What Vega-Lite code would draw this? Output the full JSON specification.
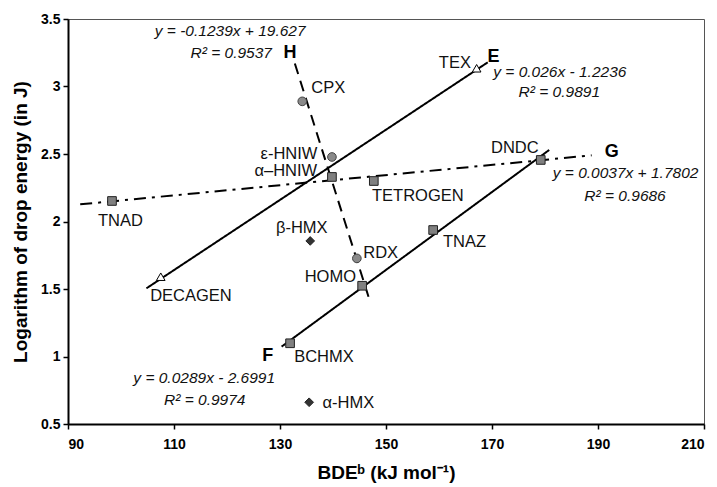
{
  "$schema": "https://vega.github.io/schema/vega-lite/v6.json",
  "width": 636,
  "height": 405,
  "autosize": {"type": "none"},
  "padding": {"left": 68, "top": 19, "right": 13, "bottom": 63},
  "background": "white",
  "config": {
    "font": "Liberation Sans",
    "view": {"stroke": "#555", "strokeWidth": 1},
    "axis": {"grid": false, "domainColor": "black", "domainWidth": 2, "tickColor": "black", "tickWidth": 1.5, "tickSize": 5, "labelFont": "Liberation Sans", "labelFontWeight": "bold", "labelFontSize": 14, "labelColor": "black", "titleFont": "Liberation Sans", "titleFontWeight": "bold", "titleFontSize": 19, "titleColor": "black"}
  },
  "datasets": {
    "pts": [
      {"name": "TNAD", "bde": 98.3, "logE": 2.152, "series": "S1"},
      {"name": "CPX", "bde": 134.2, "logE": 2.89, "series": "S2"},
      {"name": "ε-HNIW", "bde": 139.8, "logE": 2.478, "series": "S2"},
      {"name": "α-HNIW", "bde": 139.8, "logE": 2.33, "series": "S1"},
      {"name": "β-HMX", "bde": 135.7, "logE": 1.856, "series": "S3"},
      {"name": "RDX", "bde": 144.5, "logE": 1.727, "series": "S2"},
      {"name": "HOMO", "bde": 145.5, "logE": 1.524, "series": "S1"},
      {"name": "BCHMX", "bde": 131.9, "logE": 1.098, "series": "S1"},
      {"name": "α-HMX", "bde": 135.5, "logE": 0.661, "series": "S3"},
      {"name": "DECAGEN", "bde": 107.5, "logE": 1.591, "series": "S4"},
      {"name": "TEX", "bde": 167.1, "logE": 3.135, "series": "S4"},
      {"name": "TETROGEN", "bde": 147.7, "logE": 2.3, "series": "S1"},
      {"name": "DNDC", "bde": 179.2, "logE": 2.456, "series": "S1"},
      {"name": "TNAZ", "bde": 158.9, "logE": 1.937, "series": "S1"}
    ],
    "fits": [
      {"line": "E", "bde": 104.8, "logE": 1.505},
      {"line": "E", "bde": 169.2, "logE": 3.179},
      {"line": "F", "bde": 130.3, "logE": 1.073},
      {"line": "F", "bde": 180.8, "logE": 2.53},
      {"line": "G", "bde": 92.3, "logE": 2.127},
      {"line": "G", "bde": 188.8, "logE": 2.49},
      {"line": "H", "bde": 132.8, "logE": 3.17},
      {"line": "H", "bde": 146.7, "logE": 1.443}
    ],
    "texts": [
      {"kind": "name", "t": "CPX", "bde": 139.1, "logE": 2.99},
      {"kind": "name", "t": "ε-HNIW", "bde": 131.7, "logE": 2.5},
      {"kind": "name", "t": "α–HNIW", "bde": 131.1, "logE": 2.374},
      {"kind": "name", "t": "TNAD", "bde": 99.9, "logE": 2.004},
      {"kind": "name", "t": "β-HMX", "bde": 134.1, "logE": 1.95},
      {"kind": "name", "t": "DECAGEN", "bde": 113.2, "logE": 1.448},
      {"kind": "name", "t": "HOMO", "bde": 139.5, "logE": 1.587},
      {"kind": "name", "t": "RDX", "bde": 149.0, "logE": 1.764},
      {"kind": "name", "t": "BCHMX", "bde": 138.3, "logE": 1.0},
      {"kind": "name", "t": "α-HMX", "bde": 142.9, "logE": 0.653},
      {"kind": "name", "t": "TEX", "bde": 163.0, "logE": 3.176},
      {"kind": "name", "t": "DNDC", "bde": 174.3, "logE": 2.542},
      {"kind": "name", "t": "TETROGEN", "bde": 156.0, "logE": 2.189},
      {"kind": "name", "t": "TNAZ", "bde": 164.8, "logE": 1.848},
      {"kind": "eq", "t": "y = -0.1239x + 19.627", "bde": 120.6, "logE": 3.41},
      {"kind": "eq", "t": "R² = 0.9537", "bde": 120.8, "logE": 3.248},
      {"kind": "eq", "t": "y = 0.026x - 1.2236", "bde": 182.8, "logE": 3.11},
      {"kind": "eq", "t": "R² = 0.9891", "bde": 182.7, "logE": 2.957},
      {"kind": "eq", "t": "y = 0.0037x + 1.7802", "bde": 195.2, "logE": 2.357},
      {"kind": "eq", "t": "R² = 0.9686", "bde": 195.1, "logE": 2.189},
      {"kind": "eq", "t": "y = 0.0289x - 2.6991", "bde": 115.7, "logE": 0.843},
      {"kind": "eq", "t": "R² = 0.9974", "bde": 115.8, "logE": 0.678},
      {"kind": "letter", "t": "H", "bde": 131.9, "logE": 3.248},
      {"kind": "letter", "t": "E", "bde": 170.3, "logE": 3.221},
      {"kind": "letter", "t": "G", "bde": 192.6, "logE": 2.517},
      {"kind": "letter", "t": "F", "bde": 127.7, "logE": 1.004}
    ]
  },
  "encoding": {
    "x": {"field": "bde", "type": "quantitative", "scale": {"domain": [90, 210], "nice": false, "zero": false},
      "axis": {"values": [90, 110, 130, 150, 170, 190, 210], "title": "BDEᵇ (kJ mol⁻¹)", "labelPadding": 8, "titlePadding": 12}},
    "y": {"field": "logE", "type": "quantitative", "scale": {"domain": [0.5, 3.5], "nice": false, "zero": false},
      "axis": {"values": [0.5, 1, 1.5, 2, 2.5, 3, 3.5], "format": "~g", "title": "Logarithm of drop energy (in J)", "labelPadding": 3, "titlePadding": 10}}
  },
  "layer": [
    {
      "data": {"name": "fits"},
      "mark": {"type": "line", "color": "black", "strokeWidth": 2},
      "encoding": {
        "detail": {"field": "line", "type": "nominal"},
        "strokeDash": {"field": "line", "type": "nominal", "legend": null,
          "scale": {"domain": ["E", "F", "G", "H"], "range": [[1, 0], [1, 0], [12, 6, 3, 6], [11, 7]]}}
      }
    },
    {
      "data": {"name": "pts"},
      "mark": {"type": "point", "filled": true, "strokeWidth": 1, "opacity": 1},
      "encoding": {
        "shape": {"field": "series", "type": "nominal", "legend": null,
          "scale": {"domain": ["S1", "S2", "S3", "S4"], "range": ["square", "circle", "diamond", "triangle-up"]}},
        "fill": {"field": "series", "type": "nominal", "legend": null,
          "scale": {"domain": ["S1", "S2", "S3", "S4"], "range": ["#808080", "#8a8a8a", "#333333", "#ffffff"]}},
        "stroke": {"field": "series", "type": "nominal", "legend": null,
          "scale": {"domain": ["S1", "S2", "S3", "S4"], "range": ["#222222", "#444444", "#222222", "#000000"]}},
        "size": {"field": "series", "type": "nominal", "legend": null,
          "scale": {"domain": ["S1", "S2", "S3", "S4"], "range": [75, 75, 120, 75]}}
      }
    },
    {
      "data": {"name": "texts"},
      "transform": [{"filter": "datum.kind === 'name'"}],
      "mark": {"type": "text", "fontSize": 16.5, "align": "center", "baseline": "middle", "color": "#111"},
      "encoding": {"text": {"field": "t"}}
    },
    {
      "data": {"name": "texts"},
      "transform": [{"filter": "datum.kind === 'eq'"}],
      "mark": {"type": "text", "fontSize": 15.5, "fontStyle": "italic", "align": "center", "baseline": "middle", "color": "#111"},
      "encoding": {"text": {"field": "t"}}
    },
    {
      "data": {"name": "texts"},
      "transform": [{"filter": "datum.kind === 'letter'"}],
      "mark": {"type": "text", "fontSize": 18, "fontWeight": "bold", "align": "center", "baseline": "middle", "color": "black"},
      "encoding": {"text": {"field": "t"}}
    }
  ]
}
